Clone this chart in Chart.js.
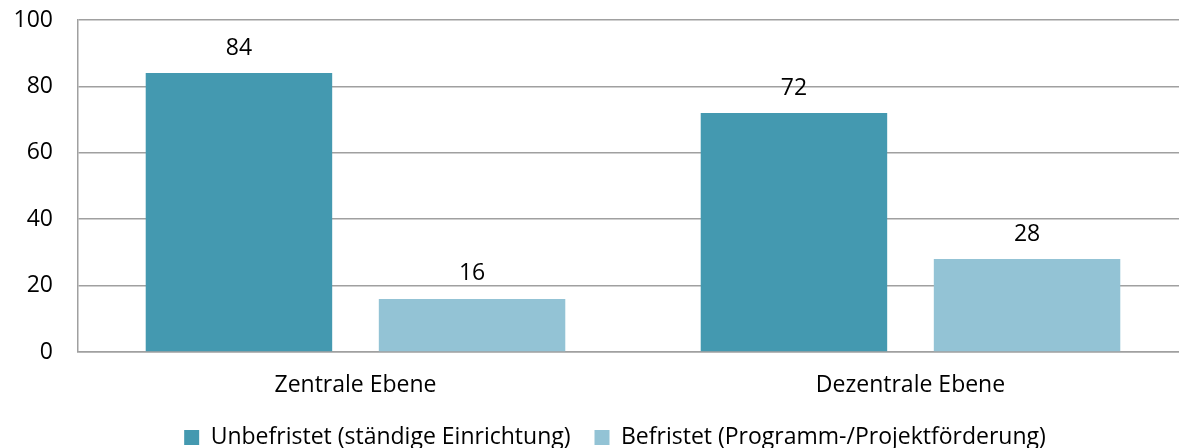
<!DOCTYPE html>
<html>
<head>
<meta charset="utf-8">
<script src="https://cdn.jsdelivr.net/npm/chart.js@4"></script>
<style>
  html, body { margin: 0; padding: 0; background: #fff; overflow: hidden; }
  #wrap { width: 1200px; height: 448px; }
</style>
</head>
<body>
<div id="wrap"><canvas id="chart"></canvas></div>
<script>
const categories = ['Zentrale Ebene', 'Dezentrale Ebene'];
const unbefristet = [84, 72];
const befristet = [16, 28];
const seriesNames = ['Unbefristet (ständige Einrichtung)', 'Befristet (Programm-/Projektförderung)'];

const FONT = '"Open Sans", sans-serif';

// value labels above each bar
const barLabels = {
    id: 'barLabels',
    afterDatasetsDraw(chart) {
        const ctx = chart.ctx;
        ctx.save();
        ctx.font = '23px ' + FONT;
        ctx.fillStyle = '#000';
        ctx.textAlign = 'center';
        ctx.textBaseline = 'middle';
        chart.data.datasets.forEach((ds, i) => {
            chart.getDatasetMeta(i).data.forEach((bar, j) => {
                ctx.fillText(ds.data[j], bar.x, bar.y - 25);
            });
        });
        ctx.restore();
    }
};

// nudge the legend so it sits centred like the original
const legendShift = {
    id: 'legendShift',
    afterLayout(chart) {
        chart.legend.left += 21;
        chart.legend.right += 21;
    }
};

new Chart(document.getElementById('chart'), {
    type: 'bar',
    data: {
        labels: categories,
        datasets: [{
            label: seriesNames[0],
            data: unbefristet,
            backgroundColor: '#4499b0'
        }, {
            label: seriesNames[1],
            data: befristet,
            backgroundColor: '#93c3d5'
        }]
    },
    options: {
        responsive: true,
        maintainAspectRatio: false,
        animation: false,
        categoryPercentage: 0.84,
        barPercentage: 0.8,
        layout: { padding: { left: 0, right: 12, top: 20, bottom: -11 } },
        plugins: {
            legend: {
                position: 'bottom',
                labels: {
                    boxWidth: 15,
                    boxHeight: 15,
                    padding: 24,
                    color: '#000',
                    font: { family: FONT, size: 23 }
                }
            },
            tooltip: { enabled: false }
        },
        scales: {
            x: {
                afterFit(scale) { scale.height = 50; },
                grid: { display: false, drawTicks: false },
                border: { display: true, color: '#a0a0a0', width: 1.5 },
                ticks: { color: '#000', padding: 20, font: { family: FONT, size: 23 } }
            },
            y: {
                min: 0,
                max: 100,
                afterFit(scale) {
                    scale.width = 78;
                    scale.paddingTop = 0;
                    scale.paddingBottom = 0;
                },
                grid: { color: '#a0a0a0', lineWidth: 1.5, drawTicks: false },
                border: { display: true, color: '#a0a0a0', width: 1.5 },
                ticks: { stepSize: 20, color: '#000', padding: 25, font: { family: FONT, size: 23 } }
            }
        }
    },
    plugins: [barLabels, legendShift]
});
</script>
</body>
</html>
